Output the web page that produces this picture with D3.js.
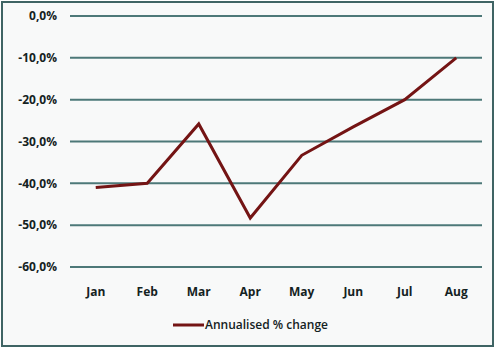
<!DOCTYPE html>
<html>
<head>
<meta charset="utf-8">
<script src="https://cdn.jsdelivr.net/npm/d3@7"></script>
<style>
  body { margin: 0; background: #fff; }
  svg text { font-family: "Open Sans", "Liberation Sans", sans-serif; fill: #142222; }
</style>
</head>
<body>
<script>
var months = ["Jan", "Feb", "Mar", "Apr", "May", "Jun", "Jul", "Aug"];
var changes = [-41.0, -40.0, -25.8, -48.3, -33.3, -26.5, -20.0, -10.0];
var yTicks = [0, -10, -20, -30, -40, -50, -60];
var seriesName = "Annualised % change";

var width = 500,
    height = 350;
var svg = d3.select("body")
    .append("svg")
    .attr("width", width)
    .attr("height", height);

// frame
svg.append("rect")
    .attr("x", 2).attr("y", 2)
    .attr("width", 491).attr("height", 344)
    .attr("fill", "#f8f9f9")
    .attr("stroke", "#3f6464")
    .attr("stroke-width", 2);

var x = d3.scaleBand().domain(months).range([70, 482]);
var y = d3.scaleLinear().domain([-60, 0]).range([267, 16]);

// gridlines
svg.selectAll("line.grid")
    .data(yTicks)
    .enter()
    .append("line")
    .attr("class", "grid")
    .attr("x1", 70).attr("x2", 482)
    .attr("y1", function (d) { return y(d); })
    .attr("y2", function (d) { return y(d); })
    .attr("stroke", "#4d7878")
    .attr("stroke-width", 2);

// comma decimals, 0 shown without sign
var fmt = function (d) {
    return (d === 0 ? "0,0" : d3.format(".1f")(d).replace(".", ",").replace("−", "-")) + "%";
};

svg.selectAll("text.ytick")
    .data(yTicks)
    .enter()
    .append("text")
    .attr("class", "ytick")
    .attr("x", 57)
    .attr("y", function (d) { return y(d); })
    .attr("dy", "0.35em")
    .attr("text-anchor", "end")
    .style("font-size", "12px")
    .style("font-weight", "bold")
    .text(fmt);

svg.selectAll("text.xtick")
    .data(months)
    .enter()
    .append("text")
    .attr("class", "xtick")
    .attr("x", function (d) { return x(d) + x.bandwidth() / 2; })
    .attr("y", 292)
    .attr("dy", "0.35em")
    .attr("text-anchor", "middle")
    .style("font-size", "12px")
    .style("font-weight", "bold")
    .text(function (d) { return d; });

var line = d3.line()
    .x(function (d, i) { return x(months[i]) + x.bandwidth() / 2; })
    .y(function (d) { return y(d); });

svg.append("path")
    .datum(changes)
    .attr("d", line)
    .attr("fill", "none")
    .attr("stroke", "#741414")
    .attr("stroke-width", 3)
    .attr("stroke-linejoin", "miter");

// legend
svg.append("line")
    .attr("x1", 173).attr("x2", 204)
    .attr("y1", 325).attr("y2", 325)
    .attr("stroke", "#741414")
    .attr("stroke-width", 3);
svg.append("text")
    .attr("x", 205)
    .attr("y", 325)
    .attr("dy", "0.35em")
    .style("font-size", "12px")
    .style("font-weight", 600)
    .text(seriesName);
</script>
</body>
</html>
